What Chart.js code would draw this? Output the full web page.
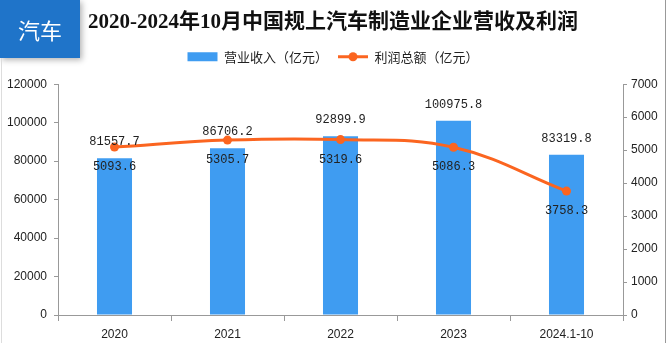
<!DOCTYPE html>
<html>
<head>
<meta charset="utf-8">
<script src="https://cdn.jsdelivr.net/npm/chart.js@4.4.1/dist/chart.umd.min.js"></script>
<style>
  html, body { margin: 0; padding: 0; background: #fff; }
  #wrap { position: relative; width: 666px; height: 343px; overflow: hidden; }
  #badge {
    position: absolute; left: 0; top: 0; width: 80px; height: 58px;
    background: #1f74c9; color: #fff;
    font: 22px "Noto Sans CJK SC", sans-serif;
    display: flex; align-items: center; justify-content: center;
    box-shadow: 2px 2px 6px rgba(0,0,0,0.3);
  }
  #edgeL { position: absolute; left: 1px; top: 58px; width: 1px; height: 285px; background: #ddd; }
  #edgeR { position: absolute; right: 0; top: 0; width: 1px; height: 343px; background: #999; }
</style>
</head>
<body>
<div id="wrap">
  <canvas id="chart" width="666" height="343"></canvas>
  <div id="badge">汽车</div>
  <div id="edgeL"></div>
  <div id="edgeR"></div>
</div>
<script>
var years   = ['2020', '2021', '2022', '2023', '2024.1-10'];
var revenue = [81557.7, 86706.2, 92899.9, 100975.8, 83319.8];
var profit  = [5093.6, 5305.7, 5319.6, 5086.3, 3758.3];

var blue   = '#3f9cf1';
var orange = '#fb6520';
var axisColor = '#999';
var textColor = '#222';

// value labels: revenue above the bar, profit under the point
var valueLabels = {
    id: 'valueLabels',
    afterDatasetsDraw: function (chart) {
        var ctx = chart.ctx;
        ctx.save();
        ctx.font = '12px "Liberation Mono", monospace';
        ctx.fillStyle = textColor;
        ctx.textAlign = 'center';
        ctx.textBaseline = 'middle';
        chart.getDatasetMeta(0).data.forEach(function (el, i) {
            ctx.fillText(revenue[i].toFixed(1), el.x, el.y - 16);
        });
        chart.getDatasetMeta(1).data.forEach(function (el, i) {
            ctx.fillText(profit[i].toFixed(1), el.x, el.y + 20);
        });
        ctx.restore();
    }
};

// extra room under legend + dot on the line legend item
var legendExtras = {
    id: 'legendExtras',
    beforeInit: function (chart) {
        var fit = chart.legend.fit;
        chart.legend.fit = function () {
            fit.bind(chart.legend)();
            this.height += 11;
        };
    },
    afterDraw: function (chart) {
        var legend = chart.legend;
        var boxes = legend.legendHitBoxes;
        if (!boxes) return;
        legend.legendItems.forEach(function (item, i) {
            if (item.datasetIndex !== 1) return;
            var b = boxes[i];
            var ctx = chart.ctx;
            ctx.save();
            ctx.fillStyle = orange;
            ctx.beginPath();
            ctx.arc(b.left + 15, b.top + b.height / 2, 4.5, 0, Math.PI * 2);
            ctx.fill();
            ctx.restore();
        });
    }
};

var plainTick = function (v) { return v; };

new Chart(document.getElementById('chart'), {
    type: 'bar',
    data: {
        labels: years,
        datasets: [{
            type: 'bar',
            label: '营业收入（亿元）',
            data: revenue,
            backgroundColor: blue,
            yAxisID: 'y',
            barPercentage: 0.31,
            categoryPercentage: 1,
            order: 2
        }, {
            type: 'line',
            label: '利润总额（亿元）',
            data: profit,
            borderColor: orange,
            backgroundColor: orange,
            borderWidth: 3,
            pointRadius: 4.5,
            pointBackgroundColor: orange,
            pointBorderWidth: 0,
            tension: 0.4,
            yAxisID: 'y1',
            order: 1
        }]
    },
    plugins: [valueLabels, legendExtras],
    options: {
        responsive: false,
        animation: false,
        layout: { padding: { left: 0, right: 0, top: 0, bottom: 0 } },
        plugins: {
            title: {
                display: true,
                text: '2020-2024年10月中国规上汽车制造业企业营收及利润',
                color: '#111',
                font: { family: '"Liberation Serif", "Noto Sans CJK SC", serif', size: 21, weight: 'bold' },
                padding: { top: 10, bottom: 5 }
            },
            legend: {
                labels: {
                    color: textColor,
                    font: { family: '"Noto Sans CJK SC", sans-serif', size: 13 },
                    usePointStyle: true,
                    pointStyleWidth: 30,
                    boxHeight: 9,
                    padding: 10,
                    sort: function (a, b) { return a.datasetIndex - b.datasetIndex; },
                    generateLabels: function (chart) {
                        var items = Chart.defaults.plugins.legend.labels.generateLabels(chart);
                        items.forEach(function (it) {
                            if (it.datasetIndex === 0) {
                                it.pointStyle = 'rect';
                                it.lineWidth = 0;
                            } else {
                                it.pointStyle = 'line';
                                it.lineWidth = 3;
                                it.strokeStyle = orange;
                            }
                        });
                        return items;
                    }
                }
            },
            tooltip: { enabled: false }
        },
        scales: {
            x: {
                afterFit: function (s) { s.height = 28; },
                grid: { drawOnChartArea: false, color: axisColor, tickLength: 6 },
                border: { color: axisColor },
                ticks: {
                    color: textColor,
                    padding: 6,
                    font: { family: '"Liberation Sans", sans-serif', size: 12 }
                }
            },
            y: {
                position: 'left',
                min: 0,
                max: 120000,
                afterFit: function (s) { s.width = 58; },
                grid: { drawOnChartArea: false, color: axisColor, tickLength: 4 },
                border: { color: axisColor },
                ticks: {
                    stepSize: 20000,
                    color: textColor,
                    padding: 7,
                    callback: plainTick,
                    font: { family: '"Liberation Sans", sans-serif', size: 12 }
                }
            },
            y1: {
                position: 'right',
                min: 0,
                max: 7000,
                afterFit: function (s) { s.width = 43; },
                grid: { drawOnChartArea: false, color: axisColor, tickLength: 4 },
                border: { color: axisColor },
                ticks: {
                    stepSize: 1000,
                    color: textColor,
                    padding: 4,
                    callback: plainTick,
                    font: { family: '"Liberation Sans", sans-serif', size: 12 }
                }
            }
        }
    }
});
</script>
</body>
</html>
